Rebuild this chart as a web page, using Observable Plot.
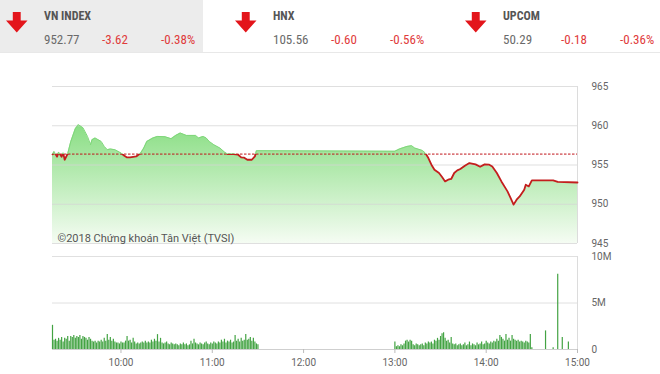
<!DOCTYPE html>
<html><head><meta charset="utf-8">
<script src="https://cdn.jsdelivr.net/npm/d3@7"></script>
<script src="https://cdn.jsdelivr.net/npm/@observablehq/plot@0.6"></script>
<style>
body{margin:0;background:#fff;width:660px;height:374px;overflow:hidden;position:relative;font-family:Roboto,sans-serif;}
#hdr{position:absolute;left:0;top:0;width:660px;height:52px;border-bottom:1px solid #e8e8e8;}
#gray{position:absolute;left:0;top:0;width:203px;height:52px;background:#ececec;}
.t{position:absolute;white-space:nowrap;font-family:"Liberation Sans Narrow","Roboto Condensed","DejaVu Sans Condensed",sans-serif;}
.name{font-weight:bold;font-size:12px;color:#555;top:9px;}
.val{font-size:13px;color:#6a6a6a;top:32px;}
.chg{font-size:13px;color:#df3b3b;top:32px;}
.arrow{position:absolute;top:12px;}
#price{position:absolute;left:0;top:80px;}
#vol{position:absolute;left:0;top:250px;}
</style></head>
<body>
<div id="hdr"><div id="gray"></div></div>
<div id="price"></div>
<div id="vol"></div>
<script>
// ---- header data ----
const indexNames = ["VN INDEX", "HNX", "UPCOM"];
const indexValues = ["952.77", "105.56", "50.29"];
const indexChanges = ["-3.62", "-0.60", "-0.18"];
const indexPercents = ["-0.38%", "-0.56%", "-0.36%"];

// ---- price data (VN-Index intraday) ----
const refPrice = 956.39;
const priceTicks = [945, 950, 955, 960, 965];
const priceTimes = ["09:15","09:16","09:18","09:19","09:21","09:22","09:23","09:25","09:27","09:30","09:32","09:35","09:38","09:40","09:41","09:43","09:47","09:49","09:51","09:53","09:56","10:00","10:02","10:04","10:06","10:10","10:13","10:15","10:17","10:21","10:24","10:29","10:33","10:36","10:39","10:43","10:46","10:49","10:51","10:54","10:56","10:58","11:01","11:05","11:08","11:10","11:14","11:17","11:19","11:21","11:23","11:26","11:28","11:29","11:30","13:00","13:03","13:08","13:11","13:13","13:18","13:20","13:22","13:24","13:26","13:29","13:31","13:33","13:35","13:37","13:39","13:41","13:43","13:46","13:49","13:53","13:56","13:59","14:02","14:04","14:07","14:10","14:14","14:16","14:18","14:20","14:22","14:25","14:26","14:28","14:30","14:44","14:47","15:00"];
const priceValues = [956.37,956.73,956.06,956.65,956.06,956.56,955.67,956.44,957.96,959.62,960.13,959.75,958.64,957.58,958.22,958.44,958.00,957.37,956.95,957.04,956.95,956.53,956.22,955.97,955.97,956.09,956.53,957.16,958.00,958.44,958.64,958.60,958.35,958.77,959.07,958.77,958.77,958.77,958.44,958.64,958.44,958.00,957.58,957.16,956.65,956.40,956.40,956.31,955.97,955.93,955.67,955.67,956.09,956.82,956.82,956.75,957.04,957.37,957.46,957.16,956.86,956.53,955.89,955.04,954.40,953.98,953.47,952.91,953.13,953.22,953.98,954.31,954.49,954.91,955.25,955.08,954.78,955.08,955.04,954.82,953.98,952.91,951.64,950.80,949.95,950.58,951.00,951.86,952.49,952.27,953.04,953.04,952.84,952.77];
const caption = "©2018 Chứng khoán Tân Việt (TVSI)";

// ---- volume data (millions of shares per minute) ----
const volTicks = [0, 5, 10];
const volTickLabels = ["0", "5M", "10M"];
const morningStart = "09:15";
const volMorning = [2.6,1.0,
1.1,0.9,1.2,1.0,1.3,0.8,1.2,1.1,1.4,0.9,
1.4,1.3,1.5,1.2,1.4,1.3,1.5,1.1,1.4,1.3,1.2,1.0,1.3,1.1,0.9,
0.8,0.9,0.7,0.9,0.8,1.0,0.8,1.2,0.9,1.6,1.0,1.3,0.9,1.1,0.8,0.7,
0.7,0.6,0.8,0.7,0.7,0.9,
1.4,0.9,1.0,0.7,1.2,0.8,0.6,0.7,0.6,0.7,0.8,0.7,0.9,0.7,0.8,0.7,
1.0,0.8,1.1,0.9,1.6,0.8,1.2,0.7,
0.6,0.7,0.8,0.6,0.5,0.7,0.6,0.5,0.6,0.5,0.4,0.6,0.5,0.7,0.5,0.6,0.4,0.5,
0.9,0.6,1.1,0.7,0.6,0.5,0.7,0.6,0.5,0.7,0.8,0.6,0.5,0.7,0.6,0.8,0.7,0.6,
0.8,0.7,1.0,0.8,1.1,0.7,0.9,0.8,1.0,0.7,0.8,
1.5,0.9,1.1,0.8,1.2,0.9,1.0,1.6,1.0,1.1,1.3,0.9,1.2,0.8,0.6,0.5];
const afternoonStart = "13:00";
const volAfternoon = [0.8,0.3,0.4,0.3,0.5,0.4,0.6,0.9,1.0,0.8,
1.0,0.9,0.5,0.4,0.6,0.5,0.4,0.5,0.6,0.4,
0.7,0.6,0.8,0.7,0.8,0.6,1.0,0.9,1.2,1.0,
1.4,1.7,1.8,1.2,0.9,1.0,0.7,1.3,0.6,0.5,
0.6,0.4,0.5,0.6,0.4,0.5,0.7,0.4,0.5,0.8,
0.4,0.6,0.5,0.4,0.7,0.5,0.6,0.8,0.5,0.6,
0.9,0.7,0.6,0.8,0.7,0.9,0.8,1.1,0.9,1.5,
1.3,1.1,0.9,1.6,1.0,1.2,0.9,1.5,1.1,1.0,
0.9,1.0,0.8,0.9,0.8,0.7,0.9,0.8,0.7,1.6,
0.2];
const volCloseTimes = ["14:39", "14:44", "14:47", "14:50", "14:54"];
const volCloseValues = [2.0, 0.2, 8.1, 1.3, 0.8];
const hourTicks = ["10:00", "11:00", "12:00", "13:00", "14:00", "15:00"];

// ---- helpers ----
const T = s => { const [h, m] = s.split(":").map(Number); return new Date(Date.UTC(2018, 0, 1, h, m)); };
const addMin = (d, k) => new Date(d.getTime() + k * 60000);

// ---- header ----
const hdr = document.getElementById("hdr");
const blockX = [6, 235, 465];
indexNames.forEach((n, i) => {
  const bx = blockX[i];
  const a = document.createElementNS("http://www.w3.org/2000/svg", "svg");
  a.setAttribute("class", "arrow"); a.setAttribute("width", 22); a.setAttribute("height", 21);
  a.style.left = bx + "px";
  a.innerHTML = '<polygon points="6.8,0 14.7,0 14.7,8.5 21.5,8.5 10.75,20.5 0,8.5 6.8,8.5" fill="#e3151b"/>';
  hdr.appendChild(a);
  const add = (cls, txt, x) => { const d = document.createElement("div"); d.className = "t " + cls; d.textContent = txt; d.style.left = x + "px"; hdr.appendChild(d); };
  add("name", n, bx + 38);
  add("val", indexValues[i], bx + 38);
  add("chg", indexChanges[i], bx + 96);
  add("chg", indexPercents[i], bx + 155);
});

// ---- price chart ----
const x0 = T("09:15"), x1 = T("15:00");
const priceData = priceTimes.map((t, i) => ({t: T(t), v: priceValues[i]}));
const PH = 170;
const pc = Plot.plot({
  width: 660, height: PH, marginLeft: 52, marginRight: 83, marginTop: 6, marginBottom: 7,
  style: {background: "transparent", fontFamily: "Roboto, sans-serif", fontSize: "10px", color: "#666", overflow: "visible"},
  x: {type: "utc", domain: [x0, x1], axis: null},
  y: {domain: [945, 965], axis: null},
  marks: [
    Plot.areaY(priceData, {x: "t", y1: 945, y2: "v", fill: "url(#pgrad)"}),
    Plot.gridY(priceTicks, {stroke: "#d4d4d4", strokeOpacity: 0.75}),
    Plot.ruleX([x1], {stroke: "#dcdcdc"}),
    Plot.ruleY([refPrice], {stroke: "#c0141a", strokeDasharray: "2.5,1.5", strokeWidth: 1}),
    Plot.line(priceData, {x: "t", y: "v", stroke: "#7fd67a", strokeWidth: 1}),
    Plot.line(priceData, {x: "t", y: "v", stroke: "#c41e1e", strokeWidth: 1.8}),
    Plot.axisY(priceTicks, {anchor: "right", label: null, tickSize: 0, tickPadding: 14, fontSize: 10}),
    Plot.text([caption], {frameAnchor: "bottom-left", dx: 5, dy: -2, fontSize: 11, fill: "#555"})
  ]
});
{
  const ys = pc.scale("y");
  const yRef = ys.apply(refPrice);
  const svg = d3.select(pc);
  const defs = svg.insert("defs", ":first-child");
  const g = defs.append("linearGradient").attr("id", "pgrad").attr("gradientUnits", "userSpaceOnUse")
    .attr("x1", 0).attr("x2", 0).attr("y1", ys.apply(960)).attr("y2", ys.apply(945));
  g.append("stop").attr("offset", 0).attr("stop-color", "#8ade84");
  g.append("stop").attr("offset", 1).attr("stop-color", "#f5fcf3");
  defs.append("clipPath").attr("id", "clipUp").append("rect").attr("x", 0).attr("y", 0).attr("width", 660).attr("height", yRef);
  defs.append("clipPath").attr("id", "clipDn").append("rect").attr("x", 0).attr("y", yRef).attr("width", 660).attr("height", PH - yRef);
  const lines = svg.selectAll('g[aria-label="line"]').nodes();
  if (lines[0]) d3.select(lines[0]).attr("clip-path", "url(#clipUp)");
  if (lines[1]) d3.select(lines[1]).attr("clip-path", "url(#clipDn)");
}
document.getElementById("price").appendChild(pc);

// ---- volume chart ----
const volData = [
  ...volMorning.map((v, i) => ({t: addMin(T(morningStart), i), v})),
  ...volAfternoon.map((v, i) => ({t: addMin(T(afternoonStart), i), v})),
  ...volCloseTimes.map((t, i) => ({t: T(t), v: volCloseValues[i]}))
];
const vc = Plot.plot({
  width: 660, height: 124, marginLeft: 52, marginRight: 83, marginTop: 6, marginBottom: 25,
  style: {background: "transparent", fontFamily: "Roboto, sans-serif", fontSize: "10px", color: "#666", overflow: "visible"},
  x: {type: "utc", domain: [x0, x1], axis: null},
  y: {domain: [0, 10], axis: null},
  marks: [
    Plot.gridY([5, 10], {stroke: "#e0e0e0", strokeOpacity: 1}),
    Plot.ruleY([0], {stroke: "#cfcfcf"}),
    Plot.ruleX([x1], {stroke: "#dcdcdc"}),
    Plot.ruleX(volData, {x: "t", y1: 0, y2: "v", stroke: "#43a343", strokeWidth: 1.2}),
    Plot.axisY(volTicks, {anchor: "right", label: null, tickSize: 0, tickPadding: 14, fontSize: 10, tickFormat: d => volTickLabels[volTicks.indexOf(d)]}),
    Plot.axisX(hourTicks.map(T), {label: null, tickSize: 4, tickPadding: 5, fontSize: 10, stroke: "#bbb", tickFormat: d3.utcFormat("%H:%M")})
  ]
});
document.getElementById("vol").appendChild(vc);
</script>
</body></html>
